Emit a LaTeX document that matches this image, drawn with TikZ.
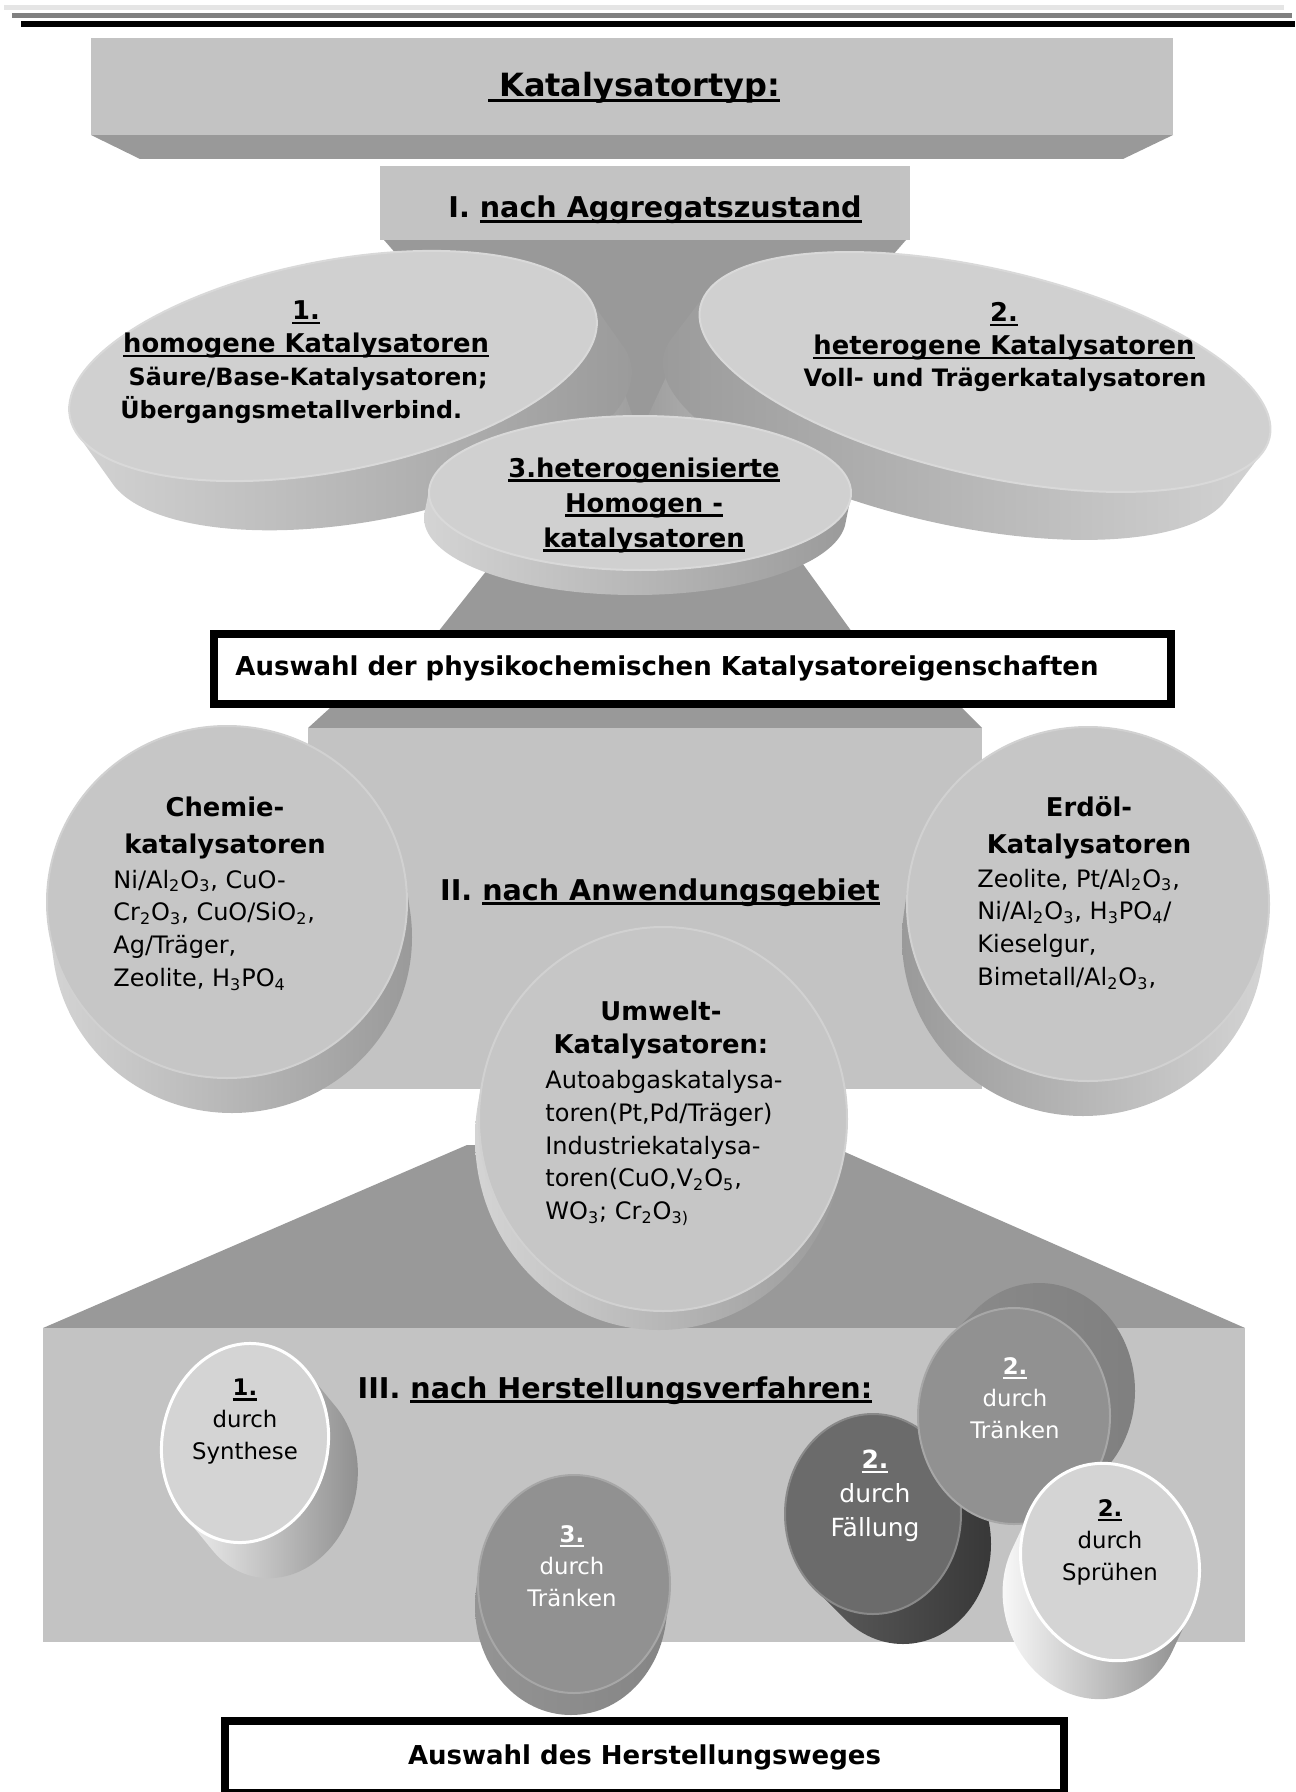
\documentclass[tikz,border=0pt]{standalone}
\usepackage{fontspec}
\setmainfont{DejaVu Sans}
\newcommand{\uln}[1]{\setbox0\hbox{#1}\rlap{\rule[-2.4pt]{\wd0}{1.2pt}}\box0}
\newcommand{\subs}[1]{\textsubscript{#1}}

\definecolor{boxgray}{HTML}{C3C3C3}
\definecolor{bevelgray}{HTML}{999999}
\definecolor{topface}{HTML}{D0D0D0}
\definecolor{midface}{HTML}{C6C6C6}
\definecolor{sidelight}{HTML}{D4D4D4}
\definecolor{sidedark}{HTML}{9A9A9A}
\definecolor{paleface}{HTML}{D4D4D4}
\definecolor{greyface}{HTML}{919191}
\definecolor{darkface}{HTML}{6B6B6B}

\begin{document}
\begin{tikzpicture}[x=0.5pt, y=-0.5pt,
  catbox/.style={fill=boxgray},
  catbevel/.style={fill=bevelgray},
  discface/.style={fill=#1, draw=#1!80!white, line width=1pt},
  headtxt/.style={font=\bfseries\fontsize{14.3}{18}\selectfont, inner sep=0pt},
  titletxt/.style={font=\bfseries\fontsize{12.9}{16.5}\selectfont, align=center, inner sep=0pt},
  listtxt/.style={font=\fontsize{12}{16.4}\selectfont, align=left, inner sep=0pt},
  methtxt/.style={font=\fontsize{11.4}{16}\selectfont, align=center, inner sep=0pt},
  selbox/.style={draw=black, line width=4pt, fill=white, inner sep=0pt},
  seltxt/.style={font=\bfseries\fontsize{13}{16}\selectfont, inner sep=0pt}]
  \useasboundingbox (0,0) rectangle (1295,1792);

  % rules at the top
  \fill[black!10] (4,5) rectangle (1284,10);
  \fill[black!50] (12,13) rectangle (1292,18);
  \fill[black] (21,21) rectangle (1295,27);

  % catalyst type block
  \fill[catbevel] (91,135) -- (1173,135) -- (1123,159) -- (140,159) -- cycle;
  \path[catbox] (91,38) rectangle (1173,135);
  \node[headtxt, font=\bfseries\fontsize{16}{18}\selectfont, anchor=base] (kat) at (634,97) {\uln{\ Katalysatortyp:}};

  % I. by state of aggregation
  \fill[catbevel] (384,240) -- (906,240) -- (705,470) -- (585,470) -- cycle;
  \path[catbox] (380,166) rectangle (910,240);
  \node[headtxt, anchor=base] (aggr) at (655,218) {I. \uln{nach Aggregatszustand}};

  % side wedges running into the middle
  \shade[left color=sidelight, right color=black!38] (596,312) -- (634,420) -- (520,470) -- (450,420) -- cycle;
  \shade[left color=black!38, right color=sidelight] (702,300) -- (646,420) -- (780,470) -- (840,420) -- cycle;

  % 1. homogeneous
  \begin{scope}[shift={(333,366)}, rotate=11]
    \shade[left color=sidelight, right color=sidedark]
      \foreach \i in {0,...,20} {(1.25*\i, 2.75*\i) ellipse [x radius=268, y radius=105]};
    \path[discface=topface] (0,0) ellipse [x radius=268, y radius=105];
  \end{scope}
  \node[titletxt] (homoT) at (306,329) {\uln{1.}\\\uln{homogene Katalysatoren}};
  \node[titletxt, font=\bfseries\fontsize{11.9}{16.5}\selectfont, align=left, anchor=west] (homoL) at (120,395) {\ Säure/Base-Katalysatoren;\\Übergangsmetallverbind.};

  % 2. heterogeneous
  \begin{scope}[shift={(985,372)}, rotate=-13]
    \shade[left color=sidedark, right color=sidelight]
      \foreach \i in {0,...,20} {(-1.25*\i, 2.75*\i) ellipse [x radius=292, y radius=103]};
    \path[discface=topface] (0,0) ellipse [x radius=292, y radius=103];
  \end{scope}
  \node[titletxt] (heteroT) at (1004,331) {\uln{2.}\\\uln{heterogene Katalysatoren}};
  \node[titletxt, font=\bfseries\fontsize{12}{16.5}\selectfont] (heteroL) at (1005,380) {Voll- und Trägerkatalysatoren};

  % stem down to the selection box
  \fill[catbevel] (495,560) -- (800,560) -- (852,632) -- (438,632) -- cycle;

  % 3. heterogenised
  \shade[left color=sidelight, right color=sidedark]
    \foreach \i in {0,...,20} {(640-0.25*\i, 493+1.25*\i) ellipse [x radius=211, y radius=77]};
  \path[discface=topface] (640,493) ellipse [x radius=211, y radius=77];
  \node[titletxt, font=\bfseries\fontsize{12.9}{17.5}\selectfont] (hgen) at (644,505) {\uln{3.heterogenisierte}\\\uln{Homogen -}\\\uln{katalysatoren}};

  % II. by field of application
  \fill[catbevel] (330,708) -- (962,708) -- (982,728) -- (308,728) -- cycle;
  \path[catbox] (308,728) rectangle (982,1089);
  \node[headtxt, anchor=base] (anw) at (660,900) {II. \uln{nach Anwendungsgebiet}};

  % first selection box
  \node[selbox, minimum width=478.5pt, minimum height=35pt] (sel1) at (692.5,669) {};
  \node[seltxt, anchor=base] (sel1txt) at (667,675) {Auswahl der physikochemischen Katalysatoreigenschaften};

  % III. by preparation route
  \fill[catbevel] (467,1145) -- (829,1145) -- (1245,1328) -- (43,1328) -- cycle;
  \path[catbox] (43,1328) rectangle (1245,1642);
  \node[headtxt, anchor=base] (herst) at (615,1398) {III. \uln{nach Herstellungsverfahren:}};

  % Chemie
  \shade[left color=sidelight, right color=sidedark]
    \foreach \i in {0,...,20} {(227+0.25*\i, 902+1.75*\i) ellipse [x radius=180, y radius=176]};
  \path[discface=midface] (227,902) ellipse [x radius=180, y radius=176];
  \node[titletxt, font=\bfseries\fontsize{12.9}{18.5}\selectfont] (chemT) at (225,828) {Chemie-\\katalysatoren};
  \node[listtxt, anchor=west] (chemL) at (113,930) {Ni/Al\subs{2}O\subs{3}, CuO-\\Cr\subs{2}O\subs{3}, CuO/SiO\subs{2},\\Ag/Träger,\\Zeolite, H\subs{3}PO\subs{4}};

  % Erdoel
  \shade[left color=sidedark, right color=sidelight]
    \foreach \i in {0,...,20} {(1088-0.25*\i, 904+1.75*\i) ellipse [x radius=181, y radius=177]};
  \path[discface=midface] (1088,904) ellipse [x radius=181, y radius=177];
  \node[titletxt, font=\bfseries\fontsize{12.9}{18.5}\selectfont] (oilT) at (1089,828) {Erdöl-\\Katalysatoren};
  \node[listtxt, anchor=west] (oilL) at (977,929) {Zeolite, Pt/Al\subs{2}O\subs{3},\\Ni/Al\subs{2}O\subs{3}, H\subs{3}PO\subs{4}/\\Kieselgur,\\Bimetall/Al\subs{2}O\subs{3},};

  % Umwelt
  \shade[left color=sidelight, right color=sidedark]
    \foreach \i in {0,...,20} {(663-0.2*\i, 1119+0.95*\i) ellipse [x radius=184, y radius=192]};
  \path[discface=midface] (663,1119) ellipse [x radius=184, y radius=192];
  \node[titletxt] (envT) at (661,1030) {Umwelt-\\Katalysatoren:};
  \node[listtxt, anchor=west] (envL) at (545,1148) {Autoabgaskatalysa-\\toren(Pt,Pd/Träger)\\Industriekatalysa-\\toren(CuO,V\subs{2}O\subs{5},\\WO\subs{3}; Cr\subs{2}O\subs{3)}};

  % 1. durch Synthese
  \begin{scope}[shift={(245,1443)}, rotate=-10]
    \shade[left color=white, right color=black!45]
      \foreach \i in {0,...,20} {(1.75*\i, 1.5*\i) ellipse [x radius=83, y radius=100]};
    \path[discface=paleface, draw=white, line width=1.5pt] (0,0) ellipse [x radius=83, y radius=100];
  \end{scope}
  \node[methtxt] (synth) at (245,1422) {\textbf{\uln{1.}}\\durch\\Synthese};

  % 3. durch Traenken
  \shade[left color=black!42, right color=black!48]
    \foreach \i in {0,...,20} {(574-0.15*\i, 1584+1.1*\i) ellipse [x radius=96, y radius=109]};
  \path[discface=greyface] (574,1584) ellipse [x radius=96, y radius=109];
  \node[methtxt, text=white] (soak3) at (572,1566) {\textbf{\uln{3.}}\\durch\\Tränken};

  % 2. durch Faellung
  \shade[left color=black!62, right color=black!78]
    \foreach \i in {0,...,20} {(873+1.5*\i, 1514+1.5*\i) ellipse [x radius=88, y radius=100]};
  \path[discface=darkface] (873,1514) ellipse [x radius=88, y radius=100];
  \node[methtxt, text=white, font=\fontsize{12.5}{17}\selectfont] (prec) at (875,1496) {\textbf{\uln{2.}}\\durch\\Fällung};

  % 2. durch Traenken
  \shade[left color=black!45, right color=black!50]
    \foreach \i in {0,...,20} {(1014+1.25*\i, 1416-1.25*\i) ellipse [x radius=96, y radius=108]};
  \path[discface=greyface] (1014,1416) ellipse [x radius=96, y radius=108];
  \node[methtxt, text=white] (soak2) at (1015,1398) {\textbf{\uln{2.}}\\durch\\Tränken};

  % 2. durch Spruehen
  \begin{scope}[shift={(1110,1562)}, rotate=20]
    \shade[left color=white, right color=black!50]
      \foreach \i in {0,...,20} {(-1.5*\i, 1.5*\i) ellipse [x radius=88, y radius=100]};
    \path[discface=paleface, draw=white, line width=1.5pt] (0,0) ellipse [x radius=88, y radius=100];
  \end{scope}
  \node[methtxt] (spray) at (1110,1542) {\textbf{\uln{2.}}\\durch\\Sprühen};

  % second selection box
  \node[selbox, seltxt, line width=4pt, minimum width=419.5pt, minimum height=36pt] (sel2) at (644.5,1757) {Auswahl des Herstellungsweges};
\end{tikzpicture}
\end{document}
